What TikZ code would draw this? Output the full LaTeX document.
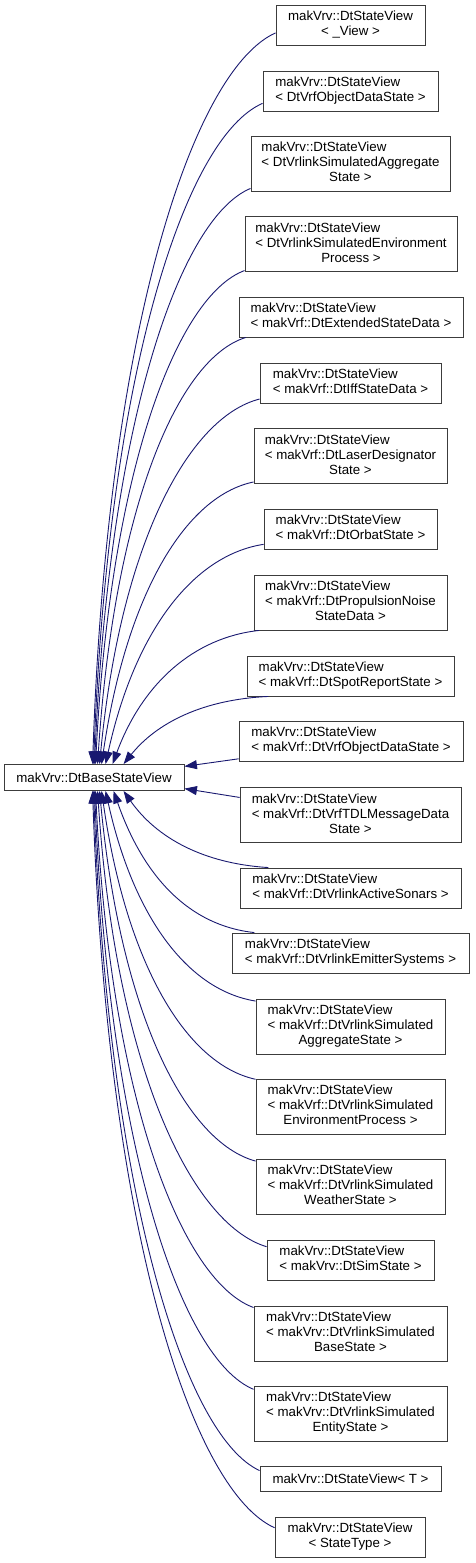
\documentclass[tikz,border=0pt]{standalone}
\usepackage{fontspec}
\setmainfont{Liberation Sans}
\usetikzlibrary{arrows.meta}
\definecolor{edgeblue}{RGB}{25,25,112}
\definecolor{boxline}{RGB}{60,60,60}
\newcommand{\twol}[2]{\begin{tabular}{@{}l@{}}#1\\\multicolumn{1}{@{}c@{}}{#2}\end{tabular}}
\newcommand{\threel}[3]{\begin{tabular}{@{}l@{}}#1\\#2\\\multicolumn{1}{@{}c@{}}{#3}\end{tabular}}
\begin{document}
\begin{tikzpicture}[x=1pt,y=1pt,
  cls/.style={draw=boxline, line width=0.9pt, fill=white, inner sep=0pt,
    font=\fontsize{13.3}{15}\selectfont, minimum height=40pt},
  tall/.style={minimum height=55pt},
  edge/.style={draw=edgeblue, line width=0.9pt, -{Triangle[length=12.5pt,width=9pt]}}]
\useasboundingbox (0,0) rectangle (475,-1563);

\node[cls, minimum width=149pt] (c1) at (350.5,-25) {\twol{makVrv::DtStateView}{< \_View >}};
\node[cls, minimum width=175pt] (c2) at (350.5,-91) {\twol{makVrv::DtStateView}{< DtVrfObjectDataState >}};
\node[cls, tall, minimum width=199pt] (c3) at (350.5,-163.5) {\threel{makVrv::DtStateView}{< DtVrlinkSimulatedAggregate}{State >}};
\node[cls, tall, minimum width=212pt] (c4) at (351,-244) {\threel{makVrv::DtStateView}{< DtVrlinkSimulatedEnvironment}{Process >}};
\node[cls, minimum width=224pt] (c5) at (351,-317) {\twol{makVrv::DtStateView}{< makVrf::DtExtendedStateData >}};
\node[cls, minimum width=181pt] (c6) at (350.5,-383) {\twol{makVrv::DtStateView}{< makVrf::DtIffStateData >}};
\node[cls, tall, minimum width=193pt] (c7) at (350.5,-456) {\threel{makVrv::DtStateView}{< makVrf::DtLaserDesignator}{State >}};
\node[cls, minimum width=173pt] (c8) at (350.5,-529) {\twol{makVrv::DtStateView}{< makVrf::DtOrbatState >}};
\node[cls, tall, minimum width=193pt] (c9) at (350.5,-602.5) {\threel{makVrv::DtStateView}{< makVrf::DtPropulsionNoise}{StateData >}};
\node[cls, minimum width=207pt] (c10) at (350.5,-676) {\twol{makVrv::DtStateView}{< makVrf::DtSpotReportState >}};
\node[cls, minimum width=224pt] (c11) at (351,-741) {\twol{makVrv::DtStateView}{< makVrf::DtVrfObjectDataState >}};
\node[cls, minimum width=180pt, minimum height=26pt] (base) at (94,-777.5) {makVrv::DtBaseStateView};
\node[cls, tall, minimum width=221pt] (c12) at (350.5,-815) {\threel{makVrv::DtStateView}{< makVrf::DtVrfTDLMessageData}{State >}};
\node[cls, minimum width=221pt] (c13) at (350.5,-888) {\twol{makVrv::DtStateView}{< makVrf::DtVrlinkActiveSonars >}};
\node[cls, minimum width=237pt] (c14) at (350.5,-953) {\twol{makVrv::DtStateView}{< makVrf::DtVrlinkEmitterSystems >}};
\node[cls, tall, minimum width=189pt] (c15) at (350.5,-1026.5) {\threel{makVrv::DtStateView}{< makVrf::DtVrlinkSimulated}{AggregateState >}};
\node[cls, tall, minimum width=189pt] (c16) at (350.5,-1106.5) {\threel{makVrv::DtStateView}{< makVrf::DtVrlinkSimulated}{EnvironmentProcess >}};
\node[cls, tall, minimum width=189pt] (c17) at (350.5,-1186.5) {\threel{makVrv::DtStateView}{< makVrf::DtVrlinkSimulated}{WeatherState >}};
\node[cls, minimum width=167pt] (c18) at (350.5,-1260) {\twol{makVrv::DtStateView}{< makVrv::DtSimState >}};
\node[cls, tall, minimum width=193pt] (c19) at (350.5,-1333.5) {\threel{makVrv::DtStateView}{< makVrv::DtVrlinkSimulated}{BaseState >}};
\node[cls, tall, minimum width=193pt] (c20) at (350.5,-1413.5) {\threel{makVrv::DtStateView}{< makVrv::DtVrlinkSimulated}{EntityState >}};
\node[cls, minimum width=181pt, minimum height=25pt] (c21) at (350.5,-1478.5) {makVrv::DtStateView< T >};
\node[cls, minimum width=150pt] (c22) at (350,-1537) {\twol{makVrv::DtStateView}{< StateType >}};

\draw[edge] (c1.186) .. controls +(-82,-37) and +(15,439) .. ([xshift=89pt]base.north west);
\draw[edge] (c2.188) .. controls +(-76,-33) and +(15,397) .. ([xshift=90pt]base.north west);
\draw[edge] (c3.194) .. controls +(-70,-29) and +(15,346) .. ([xshift=91pt]base.north west);
\draw[edge] (c4.194) .. controls +(-67,-25) and +(15,296) .. ([xshift=92pt]base.north west);
\draw[edge] (c5.191) .. controls +(-68,-21) and +(17,257) .. ([xshift=94pt]base.north west);
\draw[edge] (c6.190) .. controls +(-71,-18) and +(21,220) .. ([xshift=96pt]base.north west);
\draw[edge] (c7.195) .. controls +(-68,-14) and +(25,170) .. ([xshift=98pt]base.north west);
\draw[edge] (c8.190) .. controls +(-71,-11) and +(29,132) .. ([xshift=102pt]base.north west);
\draw[edge] (c9.197) .. controls +(-65,-7) and +(30,81) .. ([xshift=109pt]base.north west);
\draw[edge] (c10.194) .. controls +(-66,-3) and +(33,41) .. ([xshift=120pt]base.north west);
\draw[edge] (c11.189) -- (base.7);
\draw[edge] (c12.171) -- (base.353);
\draw[edge] (c13.166) .. controls +(-65,4) and +(33,-47) .. ([xshift=120pt]base.south west);
\draw[edge] (c14.168) .. controls +(-65,7) and +(30,-86) .. ([xshift=110pt]base.south west);
\draw[edge] (c15.165) .. controls +(-68,11) and +(28,-126) .. ([xshift=102pt]base.south west);
\draw[edge] (c16.164) .. controls +(-69,15) and +(25,-174) .. ([xshift=98pt]base.south west);
\draw[edge] (c17.165) .. controls +(-70,19) and +(21,-223) .. ([xshift=96pt]base.south west);
\draw[edge] (c18.171) .. controls +(-76,23) and +(18,-274) .. ([xshift=94pt]base.south west);
\draw[edge] (c19.165) .. controls +(-71,26) and +(15,-311) .. ([xshift=92pt]base.south west);
\draw[edge] (c20.166) .. controls +(-72,30) and +(15,-360) .. ([xshift=91pt]base.south west);
\draw[edge] (c21.175) .. controls +(-74,34) and +(15,-408) .. ([xshift=90pt]base.south west);
\draw[edge] (c22.173) .. controls +(-82,37) and +(15,-443) .. ([xshift=89pt]base.south west);
\end{tikzpicture}
\end{document}
